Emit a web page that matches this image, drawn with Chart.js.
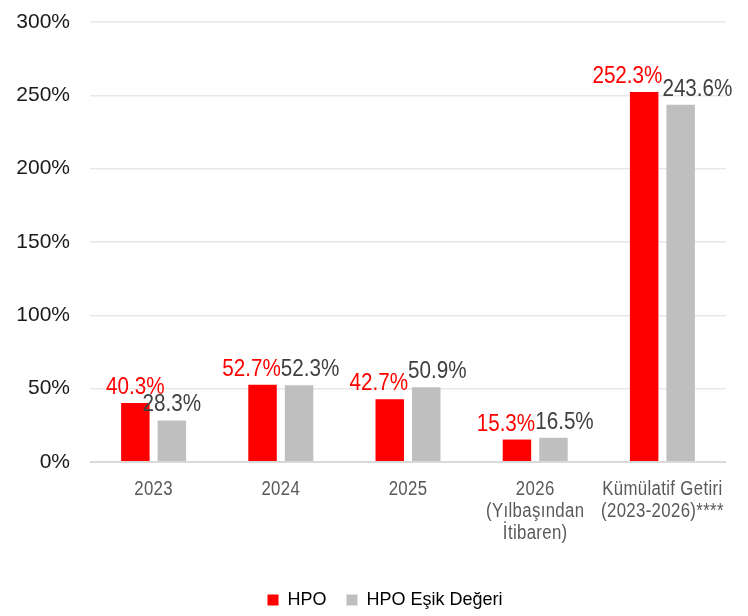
<!DOCTYPE html>
<html>
<head>
<meta charset="utf-8">
<script src="https://cdn.jsdelivr.net/npm/chart.js@4/dist/chart.umd.min.js"></script>
<style>
  html, body { margin: 0; padding: 0; background: #ffffff; }
  #wrap { width: 748px; height: 616px; position: relative; }
</style>
</head>
<body>
<div id="wrap"><canvas id="c" width="748" height="616"></canvas></div>
<script>
const categories = [
  ["2023"],
  ["2024"],
  ["2025"],
  ["2026", "(Yılbaşından", "İtibaren)"],
  ["Kümülatif Getiri", "(2023-2026)****"]
];
const hpoValues = [40.3, 52.7, 42.7, 15.3, 252.3];
const thresholdValues = [28.3, 52.3, 50.9, 16.5, 243.6];
const seriesNames = ["HPO", "HPO Eşik Değeri"];
const yTicks = [0, 50, 100, 150, 200, 250, 300];

const SANS = '"Liberation Sans", Arial, sans-serif';
const NARROW_SCALE = 0.84;
const LABEL_SCALE = 0.86;
const LABEL_GAP = 9;
const LABEL_HEIGHT = 16;

// draws text horizontally condensed (no narrow font installed)
function narrowText(ctx, text, x, y, sx) {
  ctx.save();
  ctx.translate(x, y);
  ctx.scale(sx, 1);
  ctx.fillText(text, 0, 0);
  ctx.restore();
}

const labelPlugin = {
  id: 'barLabels',
  afterLayout(chart) {
    // shift legend block slightly to the right, like the reference
    chart.legend.left += 22;
    chart.legend.right += 22;
  },
  afterDatasetsDraw(chart) {
    const ctx = chart.ctx;
    ctx.save();
    ctx.font = '24px ' + SANS;
    ctx.textAlign = 'center';
    ctx.textBaseline = 'alphabetic';
    const m0 = chart.getDatasetMeta(0), m1 = chart.getDatasetMeta(1);
    const d0 = chart.data.datasets[0].data, d1 = chart.data.datasets[1].data;
    m0.data.forEach((bar0, i) => {
      const bar1 = m1.data[i];
      const t0 = d0[i].toFixed(1) + '%', t1 = d1[i].toFixed(1) + '%';
      const w0 = ctx.measureText(t0).width * LABEL_SCALE;
      const w1 = ctx.measureText(t1).width * LABEL_SCALE;
      let x0 = bar0.x, x1 = bar1.x;
      const y0 = bar0.y - LABEL_GAP, y1 = bar1.y - LABEL_GAP;
      // push overlapping labels apart
      if (Math.abs(y0 - y1) < LABEL_HEIGHT) {
        const overlap = (w0 / 2 + w1 / 2) - (x1 - x0);
        if (overlap > 0) { x0 -= overlap / 2; x1 += overlap / 2; }
      }
      ctx.fillStyle = '#ff0000';
      narrowText(ctx, t0, x0, y0, LABEL_SCALE);
      ctx.fillStyle = '#404040';
      narrowText(ctx, t1, x1, y1, LABEL_SCALE);
    });
    // category labels (x axis ticks)
    const xs = chart.scales.x;
    ctx.font = '20px ' + SANS;
    ctx.fillStyle = '#595959';
    ctx.textBaseline = 'middle';
    ctx.letterSpacing = '0.4px';
    chart.data.labels.forEach((lab, i) => {
      const x = xs.getPixelForTick(i);
      const lines = Array.isArray(lab) ? lab : [lab];
      lines.forEach((ln, k) => {
        narrowText(ctx, ln, x, xs.top + 27 + k * 22, NARROW_SCALE);
      });
    });
    ctx.restore();
  }
};

new Chart(document.getElementById('c'), {
  type: 'bar',
  data: {
    labels: categories,
    datasets: [
      { label: seriesNames[0], data: hpoValues, backgroundColor: '#ff0000',
        categoryPercentage: 0.574, barPercentage: 0.78 },
      { label: seriesNames[1], data: thresholdValues, backgroundColor: '#bfbfbf',
        categoryPercentage: 0.574, barPercentage: 0.78 }
    ]
  },
  options: {
    responsive: false,
    animation: false,
    devicePixelRatio: 1,
    layout: { padding: { left: 0, right: 22, top: 22, bottom: -3 } },
    plugins: {
      tooltip: { enabled: false },
      legend: {
        position: 'bottom',
        labels: {
          boxWidth: 11, boxHeight: 11, padding: 20,
          color: '#000000',
          font: { family: SANS, size: 18 }
        }
      }
    },
    scales: {
      x: {
        grid: { display: false, drawTicks: false },
        border: { display: false },
        ticks: { display: false },
        afterFit(scale) { scale.height = 109; }
      },
      y: {
        min: 0, max: 300,
        afterBuildTicks(scale) { scale.ticks = yTicks.map(v => ({ value: v })); },
        grid: {
          drawTicks: true,
          tickLength: 20,
          tickColor: 'rgba(0,0,0,0)',
          color: (c) => c.tick && c.tick.value === 0 ? '#d9d9d9' : '#e8e8e8',
          lineWidth: (c) => c.tick && c.tick.value === 0 ? 2 : 1.5
        },
        border: { display: false },
        ticks: {
          color: '#1a1a1a', padding: 0,
          font: { family: SANS, size: 21 },
          callback: (v) => v + '%'
        },
        afterFit(scale) { scale.width = 90; }
      }
    }
  },
  plugins: [labelPlugin]
});
</script>
</body>
</html>
